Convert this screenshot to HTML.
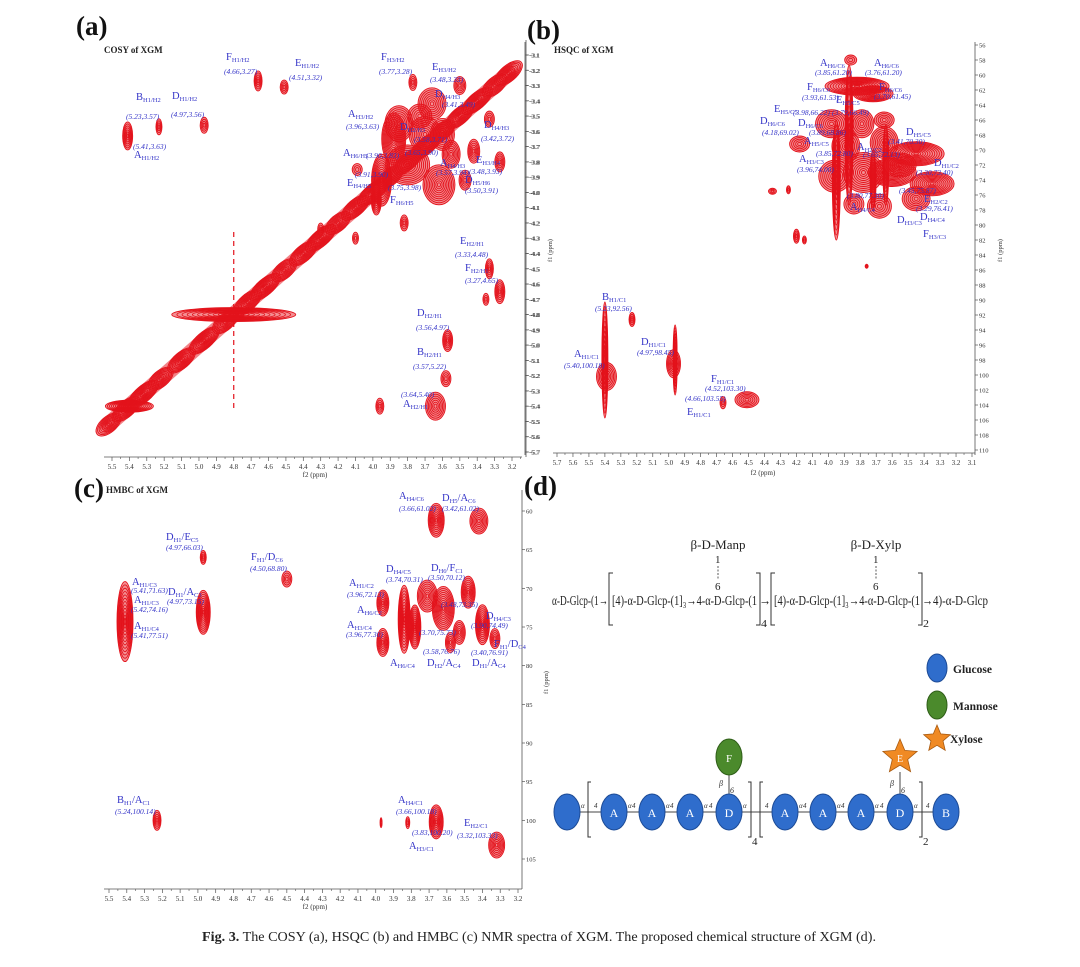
<!DOCTYPE html>
<html><head><meta charset="utf-8">
<style>
html,body{margin:0;padding:0;background:#fff;}
svg{display:block;}
text{font-family:"Liberation Serif",serif;}
</style></head>
<body>
<svg id="fig" width="1080" height="967" viewBox="0 0 1080 967" xmlns="http://www.w3.org/2000/svg">
<rect width="1080" height="967" fill="#fff"/>
</svg>
<script>
// ---------- DATA ----------
// COSY (a) cross peaks: f2 ppm, f1 ppm, contour half-width/half-height (px)
const cosyF2 = [5.41,5.23,4.97,4.66,4.51,3.77,3.50,3.33,3.42,3.27,3.66,3.88,3.70,3.80,3.62,3.95,3.73,3.55,3.47,3.98,3.82,4.09,4.30,4.10,3.33,3.27,3.35,3.57,3.58,3.64,3.96,3.85,3.60];
const cosyF1 = [3.63,3.57,3.56,3.27,3.31,3.28,3.30,3.52,3.73,3.80,3.42,3.65,3.62,3.82,3.95,3.92,3.50,3.75,3.92,4.05,4.20,3.85,4.24,4.30,4.50,4.65,4.70,4.97,5.22,5.40,5.40,3.55,3.62];
const cosyW  = [5,3,4,4,4,4,6,5,6,5,14,12,16,22,16,10,12,9,6,5,4,5,3,3,4,5,3,5,5,10,4,14,12];
const cosyH  = [14,8,8,10,7,8,9,8,12,10,16,26,18,20,20,26,12,14,10,15,8,6,6,6,10,12,6,11,8,14,8,18,16];
const cosyDiag = [5.52,5.42,5.32,5.22,5.1,4.97,4.85,4.72,4.62,4.51,4.4,4.3,4.2,4.1,4.0,3.9,3.8,3.7,3.6,3.5,3.4,3.3,3.22];
const cosyXTicks = [5.5,5.4,5.3,5.2,5.1,5.0,4.9,4.8,4.7,4.6,4.5,4.4,4.3,4.2,4.1,4.0,3.9,3.8,3.7,3.6,3.5,3.4,3.3,3.2];
const cosyYTicks = [3.1,3.2,3.3,3.4,3.5,3.6,3.7,3.8,3.9,4.0,4.1,4.2,4.3,4.4,4.5,4.6,4.7,4.8,4.9,5.0,5.1,5.2,5.3,5.4,5.5,5.6,5.7];

// HSQC (b)
const hsqcF2 = [5.39,5.40,5.23,4.97,4.96,4.51,4.66,3.82,3.86,3.98,3.79,4.18,3.89,3.65,3.45,3.96,3.78,3.60,3.35,3.45,3.68,3.84,3.65,3.95,3.87,3.64,3.72,4.35,4.25,4.20,4.15,3.76,3.55,3.72];
const hsqcF1 = [100.2,98,92.6,98.5,98,103.3,103.7,61.5,58,66.5,66.5,69.2,69.5,69,70.5,73.5,73,73,74.5,76.5,77.5,77.2,66,74,68,72,74,75.5,75.3,81.5,82,85.5,72,62.5];
const hsqcW  = [10,3,3,7,2,12,3,32,6,16,12,10,14,14,28,16,20,24,22,14,12,10,10,4,4,3,3,4,2,3,2,1.5,16,20];
const hsqcH  = [14,58,7,14,35,8,6,9,5,14,14,8,16,16,12,16,20,14,12,12,12,10,8,60,70,40,30,3,4,7,4,2,12,8];
const hsqcXTicks = [5.7,5.6,5.5,5.4,5.3,5.2,5.1,5.0,4.9,4.8,4.7,4.6,4.5,4.4,4.3,4.2,4.1,4.0,3.9,3.8,3.7,3.6,3.5,3.4,3.3,3.2,3.1];
const hsqcYTicks = [56,58,60,62,64,66,68,70,72,74,76,78,80,82,84,86,88,90,92,94,96,98,100,102,104,106,108,110];

// HMBC (c)
const hmbcF2 = [5.41,4.97,4.97,4.50,3.66,3.42,3.96,3.96,3.84,3.78,3.71,3.62,3.53,3.48,3.40,3.33,3.58,5.23,3.66,3.82,3.97,3.32];
const hmbcF1 = [74.3,73.1,66,68.8,61.2,61.3,71.9,77,74,75,71,72.6,75.7,70.5,74.7,76.5,77,100,100.2,100.3,100.3,103.2];
const hmbcW  = [8,7,3,5,8,9,6,6,6,6,10,11,6,7,7,5,5,4,7,2,1,8];
const hmbcH  = [40,22,7,8,17,13,13,14,34,22,16,22,12,16,20,10,10,10,17,6,5,13];
const hmbcXTicks = [5.5,5.4,5.3,5.2,5.1,5.0,4.9,4.8,4.7,4.6,4.5,4.4,4.3,4.2,4.1,4.0,3.9,3.8,3.7,3.6,3.5,3.4,3.3,3.2];
const hmbcYTicks = [60,65,70,75,80,85,90,95,100,105];

// ---------- AXES ----------
const xA = p => 112 + (5.5 - p) * (400 / 2.3);
const yA = p => 55 + (p - 3.1) * (397 / 2.6);
const xB = p => 557 + (5.7 - p) * (415 / 2.6);
const yB = c => 45 + (c - 56) * (405 / 54);
const yBl = p => 55 + (p - 3.1) * (397 / 2.6);
const xC = p => 109 + (5.5 - p) * (409 / 2.3);
const yC = c => 511 + (c - 60) * (348 / 45);

const NS = 'http://www.w3.org/2000/svg';
const svg = document.getElementById('fig');
const RED = '#e3121b', BLUE = '#3434c8';
function mk(tag, attrs, parent) {
  const e = document.createElementNS(NS, tag);
  for (const k in attrs) e.setAttribute(k, attrs[k]);
  parent.appendChild(e);
  return e;
}
function group(parent) { return mk('g', {}, parent); }

function blob(g, cx, cy, w, h, rot) {
  const n = Math.max(3, Math.min(12, Math.round(Math.max(w, h) / 2)));
  for (let i = 0; i < n; i++) {
    const f = 1 - i / n;
    const e = mk('ellipse', {cx: cx, cy: cy, rx: Math.max(0.6, w * f), ry: Math.max(0.6, h * f),
      fill: i === 0 ? 'rgba(232,30,38,0.5)' : 'none', stroke: RED, 'stroke-width': 0.9}, g);
    if (rot) e.setAttribute('transform', `rotate(${rot} ${cx} ${cy})`);
    
    
  }
}
function txt(g, s, x, y, size, opts) {
  const t = mk('text', Object.assign({x: x, y: y, 'font-size': size, fill: '#333'}, opts || {}), g);
  t.textContent = s;
  return t;
}
function label(g, s, x, y) {
  const t = mk('text', {x: x, y: y, 'font-size': 10.5, fill: BLUE}, g);
  
  
  const parts = s.split(/_\{|\}/);
  let inSub = false;
  parts.forEach((p, i) => {
    const sub = i % 2 === 1;
    if (!p) return;
    const ts = mk('tspan', {}, t);
    if (sub && !inSub) { ts.setAttribute('dy', '2'); ts.setAttribute('font-size', '6.5'); inSub = true; }
    else if (sub) { ts.setAttribute('font-size', '6.5'); }
    else if (!sub && inSub) { ts.setAttribute('dy', '-2'); inSub = false; }
    ts.textContent = p;
  });
}
function coord(g, s, x, y) {
  const t = mk('text', {x: x, y: y, 'font-size': 7.5, fill: BLUE, 'font-style': 'italic'}, g);
  
  
  t.textContent = s;
}
function xAxis(g, ticks, xf, y, x0, x1, labX, labY) {
  mk('line', {x1: x0, y1: y, x2: x1, y2: y, stroke: '#555', 'stroke-width': 0.8}, g);
  ticks.forEach(v => {
    const x = xf(v);
    mk('line', {x1: x, y1: y, x2: x, y2: y + 4, stroke: '#555', 'stroke-width': 0.7}, g);
    const xm = xf(v - 0.05);
    if (xm < x1) mk('line', {x1: xm, y1: y, x2: xm, y2: y + 2, stroke: '#555', 'stroke-width': 0.6}, g);
    const t = txt(g, v.toFixed(1), x, y + 12, 7, {'text-anchor': 'middle'});
    
    
  });
  const t = txt(g, 'f2 (ppm)', labX, labY, 7, {'text-anchor': 'middle'});
  
  
}
function yAxis(g, ticks, yf, x, y0, y1, fmt, dir) {
  mk('line', {x1: x, y1: y0, x2: x, y2: y1, stroke: '#555', 'stroke-width': 0.8}, g);
  ticks.forEach(v => {
    const y = yf(v);
    mk('line', {x1: x, y1: y, x2: x + 3 * dir, y2: y, stroke: '#555', 'stroke-width': 0.7}, g);
    const t = txt(g, fmt(v), x + 4, y + 2.5, 6.5, {});
    
    
  });
}
function panelTitle(g, letter, x, y, name, nx, ny) {
  const t = txt(g, letter, x, y, 27, {'font-weight': 'bold', fill: '#111'});
  
  
  if (name) {
    const n = txt(g, name, nx, ny, 9, {'font-weight': 'bold', fill: '#222'});
    
    
  }
}

// ---------- PANEL A : COSY ----------
const gA = group(svg);


panelTitle(gA, '(a)', 76, 35, 'COSY of XGM', 104, 53);
// diagonal
const diagPts = cosyDiag.map(p => xA(p) + ',' + yA(p)).join(' ');
const dl = mk('polyline', {points: diagPts, fill: 'none', stroke: 'rgba(232,30,38,0.55)', 'stroke-width': 16, 'stroke-linecap': 'round'}, gA);


cosyDiag.forEach((p, i) => blob(gA, xA(p), yA(p), 15 + (i % 3) * 2, 8, -40.7));
// water artifact
blob(gA, xA(4.8), yA(4.8), 62, 7, 0);
const wl = mk('line', {x1: xA(4.8), y1: 232, x2: xA(4.8), y2: 410, stroke: RED, 'stroke-width': 1.2, 'stroke-dasharray': '5 4'}, gA);


blob(gA, xA(5.4), yA(5.4), 24, 6, 0);
cosyF2.forEach((p, i) => blob(gA, xA(p), yA(cosyF1[i]), cosyW[i], cosyH[i], 0));
xAxis(gA, cosyXTicks, xA, 457, 104, 522, 315, 477);
yAxis(gA, cosyYTicks, yA, 526, 40, 457, v => '-' + v.toFixed(1), 1);
[['B_{H1/H2}',136,100],['D_{H1/H2}',172,99],['A_{H1/H2}',134,158],['F_{H1/H2}',226,60],['E_{H1/H2}',295,66],
 ['F_{H3/H2}',381,60],['E_{H3/H2}',432,70],['D_{H4/H3}',435,97],['A_{H3/H2}',348,117],['D_{H2/H3}',400,130],
 ['D_{H4/H3}',484,128],['A_{H6/H5}',343,156],['E_{H4/H5}',347,186],['E_{H3/H4}',476,163],['D_{H5/H6}',465,183],
 ['A_{H4/H3}',440,166],['F_{H6/H5}',390,203],['E_{H2/H1}',460,244],['F_{H2/H1}',465,271],['D_{H2/H1}',417,316],
 ['B_{H2/H1}',417,355],['A_{H2/H1}',403,407]].forEach(l => label(gA, l[0], l[1], l[2]));
[['(5.23,3.57)',126,119],['(4.97,3.56)',171,117],['(5.41,3.63)',133,149],['(4.66,3.27)',224,74],['(4.51,3.32)',289,80],
 ['(3.77,3.28)',379,74],['(3.48,3.33)',430,82],['(3.41,3.49)',442,107],['(3.96,3.63)',346,129],['(3.58,3.71)',414,142],
 ['(3.42,3.72)',481,141],['(3.90,3.83)',366,158],['(3.91,3.90)',355,177],['(3.48,3.93)',469,174],['(3.50,3.91)',465,193],
 ['(3.57,3.94)',436,175],['(3.75,3.98)',388,190],['(3.65,3.90)',405,155],['(3.33,4.48)',455,257],['(3.27,4.65)',465,283],
 ['(3.56,4.97)',416,330],['(3.57,5.22)',413,369],['(3.64,5.40)',401,397]].forEach(c => coord(gA, c[0], c[1], c[2]));

// ---------- PANEL B : HSQC ----------
const gB = group(svg);


panelTitle(gB, '(b)', 527, 39, 'HSQC of XGM', 554, 53);
hsqcF2.forEach((p, i) => blob(gB, xB(p), yB(hsqcF1[i]), hsqcW[i], hsqcH[i], 0));
xAxis(gB, hsqcXTicks, xB, 453, 553, 975, 763, 475);
yAxis(gB, hsqcYTicks, yB, 975, 42, 455, v => String(v), 1);
yAxis(gB, cosyYTicks, yBl, 525, 42, 455, v => '-' + v.toFixed(1), 1);
const f1b = txt(gB, 'f1 (ppm)', 0, 0, 6.5, {transform: 'translate(552,262) rotate(-90)'});


const f1b2 = txt(gB, 'f1 (ppm)', 0, 0, 6.5, {transform: 'translate(1002,262) rotate(-90)'});


[['A_{H6/C6}',820,66],['A_{H6/C6}',874,66],['F_{H6/C6}',807,90],['F_{H6/C6}',879,90],['E_{H5/C5}',836,103],
 ['E_{H5/C5}',774,112],['D_{H6/C6}',760,124],['D_{H6/C6}',798,126],['A_{H5/C5}',804,144],['A_{H3/C3}',799,162],
 ['A_{H2/C2}',857,150],['D_{H5/C5}',906,135],['D_{H1/C2}',934,166],['E_{H2/C2}',924,202],['D_{H3/C3}',897,223],
 ['D_{H4/C4}',920,220],['F_{H3/C3}',923,237],['A_{H4/C4}',850,210],['B_{H1/C1}',602,300],['D_{H1/C1}',641,345],
 ['A_{H1/C1}',574,357],['F_{H1/C1}',711,382],['E_{H1/C1}',687,415]].forEach(l => label(gB, l[0], l[1], l[2]));
[['(3.85,61.20)',815,75],['(3.76,61.20)',865,75],['(3.93,61.53)',802,100],['(3.70,61.45)',874,99],['(3.79,66.49)',832,115],
 ['(3.98,66.22)',793,115],['(4.18,69.02)',762,135],['(3.89,68.86)',809,135],['(3.96,74.00)',797,172],['(3.65,72.13)',863,157],
 ['(3.85,72.80)',816,156],['(3.41,70.30)',888,144],['(3.30,73.40)',916,175],['(3.29,76.41)',916,211],['(3.45,75.87)',899,193],
 ['(3.80,77.30)',847,198],['(5.23,92.56)',595,311],['(4.97,98.45)',637,355],['(5.40,100.18)',564,368],['(4.52,103.30)',705,391],
 ['(4.66,103.55)',685,401]].forEach(c => coord(gB, c[0], c[1], c[2]));

// ---------- PANEL C : HMBC ----------
const gC = group(svg);


panelTitle(gC, '(c)', 74, 497, 'HMBC of XGM', 106, 493);
hmbcF2.forEach((p, i) => blob(gC, xC(p), yC(hmbcF1[i]), hmbcW[i], hmbcH[i], 0));
xAxis(gC, hmbcXTicks, xC, 889, 104, 522, 315, 909);
yAxis(gC, hmbcYTicks, yC, 522, 490, 889, v => String(v), 1);
const f1c = txt(gC, 'f1 (ppm)', 0, 0, 6.5, {transform: 'translate(548,694) rotate(-90)'});


[['A_{H1/C3}',132,585],['A_{H1/C3}',134,603],['A_{H1/C4}',134,629],['D_{H1}/E_{C5}',166,540],['D_{H1}/A_{C3}',168,595],
 ['F_{H1}/D_{C6}',251,560],['A_{H4/C6}',399,499],['D_{H5}/A_{C6}',442,501],['D_{H4/C5}',386,572],['D_{H6}/F_{C1}',431,571],
 ['A_{H1/C2}',349,586],['A_{H6/C2}',357,613],['A_{H3/C4}',347,628],['D_{H4/C3}',486,619],['F_{H1}/D_{C4}',494,647],
 ['A_{H6/C4}',390,666],['D_{H2}/A_{C4}',427,666],['D_{H1}/A_{C4}',472,666],['B_{H1}/A_{C1}',117,803],['A_{H4/C1}',398,803],
 ['A_{H3/C1}',409,849],['E_{H2/C1}',464,826]].forEach(l => label(gC, l[0], l[1], l[2]));
[['(5.41,71.63)',131,593],['(5.42,74.16)',131,612],['(5.41,77.51)',131,638],['(4.97,66.03)',166,550],['(4.97,73.15)',167,604],
 ['(4.50,68.80)',250,571],['(3.66,61.02)',399,511],['(3.42,61.02)',442,511],['(3.74,70.31)',386,582],['(3.50,70.12)',428,580],
 ['(3.96,72.13)',347,597],['(3.96,77.30)',346,637],['(3.48,73.35)',441,607],['(3.90,74.49)',471,628],['(3.70,75.73)',419,635],
 ['(3.58,76.76)',423,654],['(3.40,76.91)',471,655],['(5.24,100.14)',115,814],['(3.66,100.18)',396,814],['(3.83,100.20)',412,835],
 ['(3.32,103.33)',457,838]].forEach(c => coord(gC, c[0], c[1], c[2]));

// ---------- PANEL D : STRUCTURE ----------
const gD = group(svg);


panelTitle(gD, '(d)', 524, 495, null);
function ft(s, x, y, len, size) {
  const t = mk('text', {x: x, y: y, 'font-size': size || 14, fill: '#222', textLength: len, lengthAdjust: 'spacingAndGlyphs'}, gD);
  t.textContent = s;
  
  
  return t;
}
ft('α-D-Glcp-(1→', 552, 605, 56);
ft('[4)-α-D-Glcp-(1]₃→4-α-D-Glcp-(1', 612, 605, 145);
ft('→', 759, 605, 12);
ft('[4)-α-D-Glcp-(1]₃→4-α-D-Glcp-(1', 774, 605, 146);
ft('→4)-α-D-Glcp', 922, 605, 66);
[[609, 573, 625, 1], [760, 573, 625, -1], [771, 573, 625, 1], [922, 573, 625, -1]].forEach(b => {
  const p = mk('path', {d: `M${b[0] + 4 * b[3]} ${b[1]} H${b[0]} V${b[2]} H${b[0] + 4 * b[3]}`, fill: 'none', stroke: '#333', 'stroke-width': 1}, gD);
  
  
});
ft('4', 761, 627, 6, 11); ft('2', 923, 627, 6, 11);
[[718, 'β-D-Manp'], [876, 'β-D-Xylp']].forEach(s => {
  const t = mk('text', {x: s[0], y: 549, 'font-size': 13, fill: '#222', 'text-anchor': 'middle'}, gD);
  t.textContent = s[1];
  
  
  txt(gD, '1', s[0] - 3, 563, 11, {fill: '#222'});
  mk('line', {x1: s[0], y1: 566, x2: s[0], y2: 579, stroke: '#333', 'stroke-width': 0.8, 'stroke-dasharray': '2 1.5'}, gD);
  txt(gD, '6', s[0] - 3, 590, 11, {fill: '#222'});
});
// legend
const GLC = '#2f6dcc', MAN = '#4b8a2c', XYL = '#f08a24';
function star(cx, cy, r, g) {
  let pts = [];
  for (let i = 0; i < 10; i++) {
    const a = -Math.PI / 2 + i * Math.PI / 5, rr = i % 2 ? r * 0.45 : r;
    pts.push((cx + rr * Math.cos(a)).toFixed(1) + ',' + (cy + rr * Math.sin(a)).toFixed(1));
  }
  return mk('polygon', {points: pts.join(' '), fill: XYL, stroke: '#a85a10', 'stroke-width': 0.8}, g);
}
const lg1 = mk('ellipse', {cx: 937, cy: 668, rx: 10, ry: 14, fill: GLC, stroke: '#1d4b96'}, gD);


const lg2 = mk('ellipse', {cx: 937, cy: 705, rx: 10, ry: 14, fill: MAN, stroke: '#2f5e18'}, gD);


const lg3 = star(937, 739, 14, gD);


[['Glucose', 953, 673], ['Mannose', 953, 710], ['Xylose', 950, 743]].forEach(l => {
  const t = txt(gD, l[0], l[1], l[2], 11.5, {'font-weight': 'bold', fill: '#222'});
  
  
});
// chain
mk('line', {x1: 567, y1: 812, x2: 946, y2: 812, stroke: '#444', 'stroke-width': 1}, gD);
mk('line', {x1: 729, y1: 775, x2: 729, y2: 795, stroke: '#444', 'stroke-width': 1}, gD);
mk('line', {x1: 900, y1: 772, x2: 900, y2: 795, stroke: '#444', 'stroke-width': 1}, gD);
[[588, 782, 837, 1], [751, 782, 837, -1], [760, 782, 837, 1], [922, 782, 837, -1]].forEach(b => {
  const p = mk('path', {d: `M${b[0] + 3 * b[3]} ${b[1]} H${b[0]} V${b[2]} H${b[0] + 3 * b[3]}`, fill: 'none', stroke: '#333', 'stroke-width': 1}, gD);
  
  
});
txt(gD, '4', 752, 845, 11, {fill: '#222'}); txt(gD, '2', 923, 845, 11, {fill: '#222'});
const units = [[567, ''], [614, 'A'], [652, 'A'], [690, 'A'], [729, 'D'], [785, 'A'], [823, 'A'], [861, 'A'], [900, 'D'], [946, 'B']];
units.forEach((u, i) => {
  const e = mk('ellipse', {cx: u[0], cy: 812, rx: 13, ry: 18, fill: GLC, stroke: '#1d4b96'}, gD);
  
  
  if (u[1]) txt(gD, u[1], u[0], 817, 12, {'text-anchor': 'middle', fill: '#fff'});
  if (i < units.length - 1) {
    txt(gD, 'α', u[0] + 14, 808, 7, {'font-style': 'italic', fill: '#333'});
    txt(gD, '4', units[i + 1][0] - 20, 808, 7, {'font-style': 'italic', fill: '#333'});
  }
});
const fm = mk('ellipse', {cx: 729, cy: 757, rx: 13, ry: 18, fill: MAN, stroke: '#2f5e18'}, gD);


txt(gD, 'F', 729, 762, 11, {'text-anchor': 'middle', fill: '#fff'});
const xs = star(900, 757, 18, gD);


txt(gD, 'E', 900, 762, 10, {'text-anchor': 'middle', fill: '#fff'});
[[724, 729], [895, 900]].forEach(p => {
  txt(gD, 'β', p[0] - 5, 786, 8, {'font-style': 'italic', fill: '#333'});
  txt(gD, '6', p[1] + 1, 793, 8, {'font-style': 'italic', fill: '#333'});
});

// caption
const cap = mk('text', {x: 202, y: 941, 'font-size': 13.5, fill: '#222', textLength: 674, lengthAdjust: 'spacingAndGlyphs'}, svg);


const cb = mk('tspan', {'font-weight': 'bold'}, cap); cb.textContent = 'Fig. 3.';
const cr = mk('tspan', {}, cap); cr.textContent = '  The COSY (a), HSQC (b) and HMBC (c) NMR spectra of XGM. The proposed chemical structure of XGM (d).';
</script>
</body></html>
